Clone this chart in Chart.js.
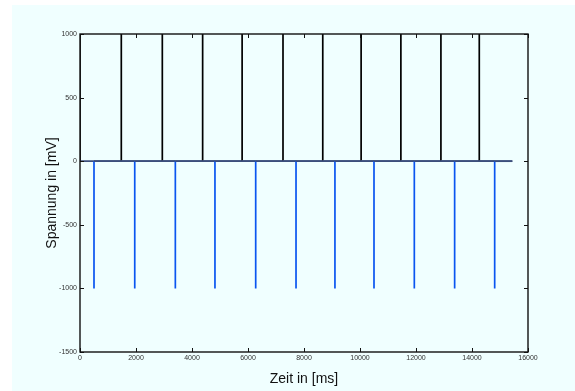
<!DOCTYPE html>
<html>
<head>
<meta charset="utf-8">
<script src="https://cdn.jsdelivr.net/npm/chart.js@4/dist/chart.umd.min.js"></script>
<style>
  html, body { margin: 0; padding: 0; background: #ffffff; }
  body { width: 575px; height: 391px; position: relative; overflow: hidden; }
  #plot { position: absolute; left: 12px; top: 5px; background: #f0ffff; }
</style>
</head>
<body>
<canvas id="plot" width="563" height="386"></canvas>
<script>
// Spike onset times in ms
const upSpikeTimes   = [0, 1475, 2940, 4380, 5790, 7250, 8670, 10040, 11460, 12890, 14260];
const downSpikeTimes = [500, 1955, 3405, 4820, 6275, 7715, 9105, 10500, 11940, 13380, 14810];
// Spike amplitudes in mV
const upAmplitude = 1000;
const downAmplitude = -1000;
const baseline = 0;
// Length of the recording in ms
const recordEnd = 15440;
// Axis ticks
const xTicks = [0, 2000, 4000, 6000, 8000, 10000, 12000, 14000, 16000];
const yTicks = [-1500, -1000, -500, 0, 500, 1000];

// Turn a list of spike times into a line trace: baseline, jump to amplitude, back to baseline
function spikeTrace(times, amp) {
  const pts = [];
  times.forEach(t => {
    pts.push({ x: t, y: baseline });
    pts.push({ x: t, y: amp });
    pts.push({ x: t, y: baseline });
  });
  pts.push({ x: recordEnd, y: baseline });
  return pts;
}

// Where both traces overlap on the baseline the line reads as a dark slate blue
const baselineColor = ctx => (ctx.p0.parsed.y === ctx.p1.parsed.y ? '#3c4f7c' : undefined);

// Closed box with inward tick marks on all four sides
const boxFrame = {
  id: 'boxFrame',
  afterDatasetsDraw(chart) {
    const { ctx, chartArea: a, scales: { x, y } } = chart;
    const len = 4;
    ctx.save();
    ctx.strokeStyle = '#111';
    ctx.lineWidth = 1.4;
    ctx.strokeRect(a.left, a.top, a.right - a.left, a.bottom - a.top);
    ctx.lineWidth = 1;
    ctx.beginPath();
    xTicks.forEach(v => {
      const px = Math.round(x.getPixelForValue(v)) + 0.5;
      ctx.moveTo(px, a.bottom); ctx.lineTo(px, a.bottom - len);
      ctx.moveTo(px, a.top); ctx.lineTo(px, a.top + len);
    });
    yTicks.forEach(v => {
      const py = Math.round(y.getPixelForValue(v)) + 0.5;
      ctx.moveTo(a.left, py); ctx.lineTo(a.left + len, py);
      ctx.moveTo(a.right, py); ctx.lineTo(a.right - len, py);
    });
    ctx.stroke();
    ctx.restore();
  }
};

const tickFont = { family: 'Liberation Sans, Arial, Helvetica, sans-serif', size: 7 };
const titleFont = { family: 'Liberation Sans, Arial, Helvetica, sans-serif', size: 14 };

new Chart(document.getElementById('plot'), {
  type: 'line',
  data: {
    datasets: [
      {
        label: 'down',
        data: spikeTrace(downSpikeTimes, downAmplitude),
        borderColor: '#0a55f0',
        borderWidth: 1.7,
        pointRadius: 0,
        tension: 0,
        fill: false,
        segment: { borderColor: baselineColor }
      },
      {
        label: 'up',
        data: spikeTrace(upSpikeTimes, upAmplitude),
        borderColor: '#000000',
        borderWidth: 1.7,
        pointRadius: 0,
        tension: 0,
        fill: false,
        segment: { borderColor: baselineColor }
      }
    ]
  },
  options: {
    responsive: false,
    animation: false,
    devicePixelRatio: 1,
    layout: { padding: { left: 0, top: 29, right: 47, bottom: 0 } },
    plugins: { legend: { display: false }, tooltip: { enabled: false } },
    scales: {
      x: {
        type: 'linear',
        min: 0, max: 16000,
        afterBuildTicks: s => { s.ticks = xTicks.map(v => ({ value: v })); },
        afterFit: s => { s.height = 39; },
        grid: { display: false, drawTicks: false },
        border: { display: false },
        ticks: { font: tickFont, color: '#333', padding: 2, maxRotation: 0, autoSkip: false,
                 callback: v => String(v) },
        title: { display: true, text: 'Zeit in [ms]', font: titleFont, color: '#111',
                 padding: { top: 0, bottom: 3 } }
      },
      y: {
        type: 'linear',
        min: -1500, max: 1000,
        afterBuildTicks: s => { s.ticks = yTicks.map(v => ({ value: v })); },
        afterFit: s => { s.width = 68; },
        grid: { display: false, drawTicks: false },
        border: { display: false },
        ticks: { font: tickFont, color: '#333', padding: 3, autoSkip: false,
                 callback: v => String(v) },
        title: { display: true, text: 'Spannung in [mV]', font: titleFont, color: '#111',
                 padding: { top: 32, bottom: 0 } }
      }
    }
  },
  plugins: [boxFrame]
});
</script>
</body>
</html>
